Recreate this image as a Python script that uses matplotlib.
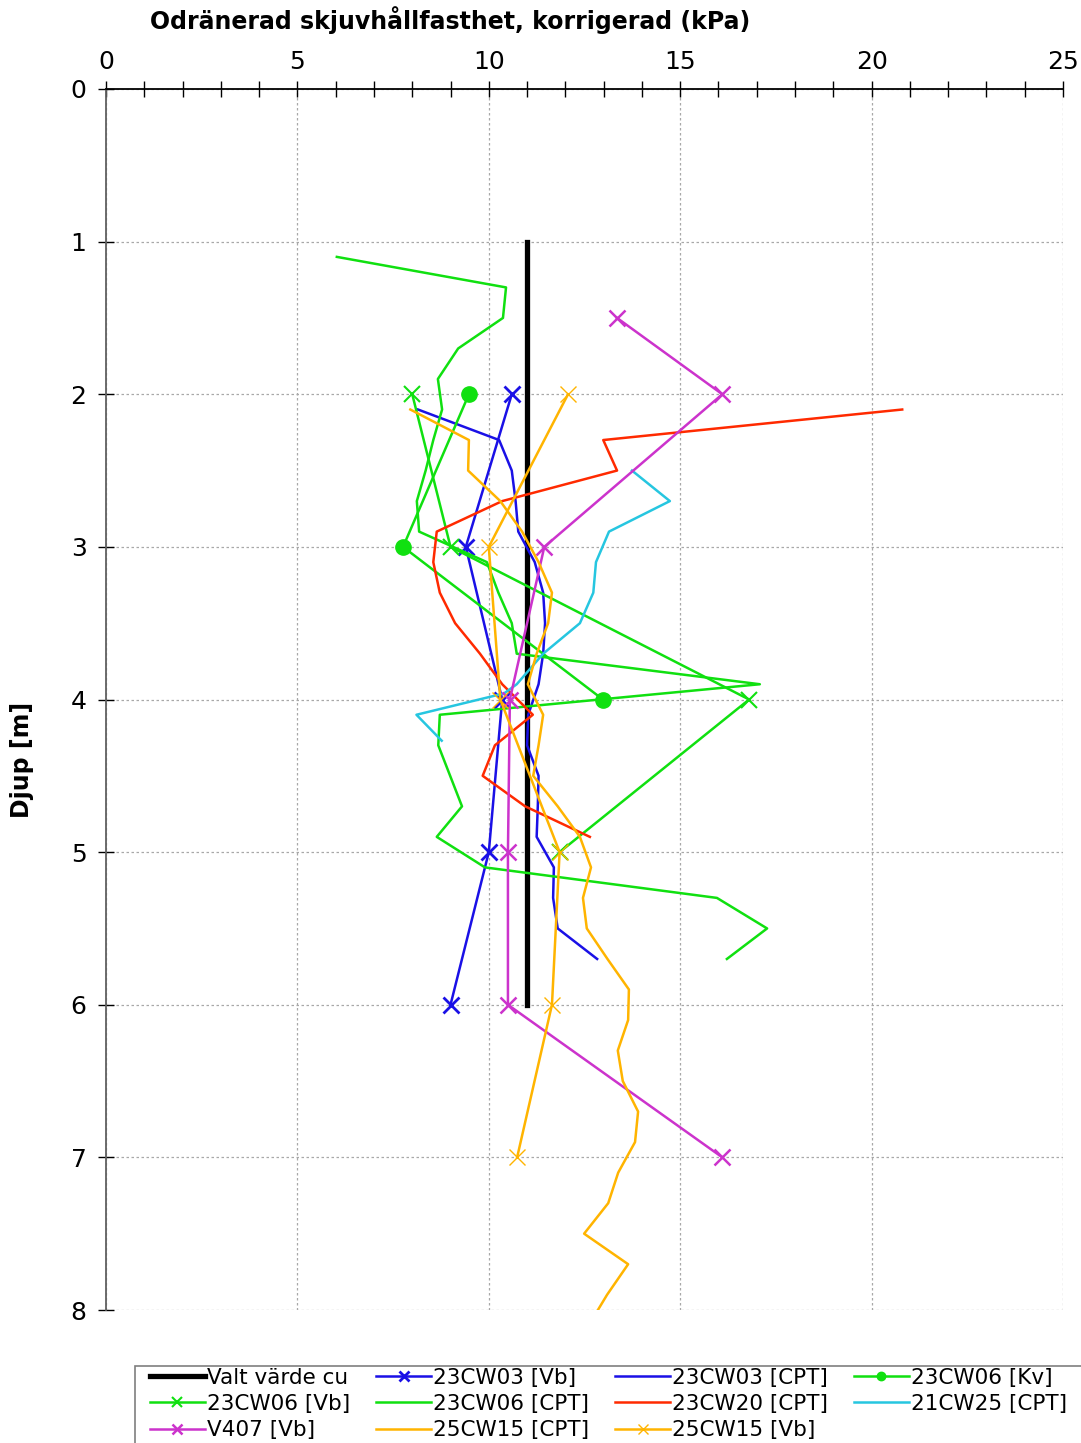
import matplotlib.pyplot as plt
from matplotlib.patches import Rectangle
from matplotlib.ticker import MultipleLocator

plt.rcParams['font.family'] = ['DejaVu Sans']

# Valt värde
valt_x = [11, 11]
valt_y = [1, 6]

# 23CW03
cw03_vb_y = [2, 3, 4, 5, 6]
cw03_vb_x = [10.6, 9.4, 10.35, 10.0, 9.0]
cw03_cpt_y = [2.1, 2.3, 2.5, 2.7, 2.9, 3.1, 3.3, 3.5, 3.7, 3.9, 4.1, 4.3, 4.5, 4.7, 4.9,
              5.1, 5.3, 5.5, 5.7]
cw03_cpt_x = [8.15, 10.27, 10.6, 10.7, 10.77, 11.2, 11.42, 11.47, 11.42, 11.3, 11.03, 11.0,
              11.3, 11.28, 11.25, 11.7, 11.68, 11.8, 12.83]

# 23CW06
cw06_kv_y = [2, 3, 4]
cw06_kv_x = [9.48, 7.76, 12.98]
cw06_vb_y = [2, 3, 4, 5]
cw06_vb_x = [8.0, 9.0, 16.8, 11.85]
cw06_cpt_y = [1.1, 1.3, 1.5, 1.7, 1.9, 2.1, 2.3, 2.5, 2.7, 2.9, 3.1, 3.3, 3.5, 3.7, 3.9,
              4.1, 4.3, 4.5, 4.7, 4.9, 5.1, 5.3, 5.5, 5.7]
cw06_cpt_x = [6.03, 10.45, 10.37, 9.2, 8.67, 8.78, 8.55, 8.35, 8.12, 8.18, 9.95, 10.25,
              10.6, 10.73, 17.08, 8.72, 8.68, 8.99, 9.3, 8.64, 9.9, 15.96, 17.27, 16.22]

# 23CW20
cw20_cpt_y = [2.1, 2.3, 2.5, 2.7, 2.9, 3.1, 3.3, 3.5, 3.7, 3.9, 4.1, 4.3, 4.5, 4.7, 4.9]
cw20_cpt_x = [20.8, 12.99, 13.35, 10.35, 8.64, 8.55, 8.72, 9.12, 9.77, 10.35, 11.15, 10.16,
              9.84, 10.95, 12.64]

# 21CW25
cw25_cpt_y = [2.5, 2.7, 2.9, 3.1, 3.3, 3.5, 3.7, 3.9, 3.96, 4.1, 4.27]
cw25_cpt_x = [13.74, 14.73, 13.14, 12.8, 12.73, 12.38, 11.42, 10.73, 10.4, 8.11, 8.77]

# V407
v407_vb_y = [1.5, 2, 3, 4, 5, 6, 7]
v407_vb_x = [13.35, 16.1, 11.45, 10.55, 10.5, 10.5, 16.1]

# 25CW15
cw15_cpt_y = [2.1, 2.3, 2.5, 2.7, 2.9, 3.1, 3.3, 3.5, 3.7, 3.9, 4.1, 4.3, 4.5, 4.7, 4.9,
              5.1, 5.3, 5.5, 5.7, 5.9, 6.1, 6.3, 6.5, 6.7, 6.9, 7.1, 7.3, 7.5, 7.7, 7.9, 8.0]
cw15_cpt_x = [7.95, 9.48, 9.46, 10.3, 10.87, 11.3, 11.65, 11.55, 11.25, 11.02, 11.42, 11.3,
              11.16, 11.8, 12.38, 12.67, 12.46, 12.56, 13.1, 13.66, 13.64, 13.37, 13.5, 13.9,
              13.82, 13.38, 13.12, 12.49, 13.64, 13.09, 12.85]
cw15_vb_y = [2, 3, 4, 5, 6, 7]
cw15_vb_x = [12.07, 10.0, 10.3, 11.85, 11.65, 10.74]

blue = "#1a10e6"
green = "#10e010"
red = "#ff2a00"
cyan = "#26c6e0"
magenta = "#cc33cc"
yellow = "#ffb400"

fig = plt.figure(figsize=(10.81, 14.43), dpi=100)
ax = fig.add_axes([106 / 1081, 1 - 1310 / 1443, (1063 - 106) / 1081, (1310 - 89) / 1443])

lw = 1.8
h = {}
h['valt'], = ax.plot(valt_x, valt_y, color="black", lw=3.8, label="Valt värde cu")
h['cw03_vb'], = ax.plot(cw03_vb_x, cw03_vb_y, color=blue, lw=lw, marker="x", ms=12, mew=2,
                        label="23CW03 [Vb]")
h['cw03_cpt'], = ax.plot(cw03_cpt_x, cw03_cpt_y, color=blue, lw=lw, label="23CW03 [CPT]")
h['cw06_kv'], = ax.plot(cw06_kv_x, cw06_kv_y, color=green, lw=lw, marker="o", ms=11,
                        label="23CW06 [Kv]")
h['cw06_vb'], = ax.plot(cw06_vb_x, cw06_vb_y, color=green, lw=lw, marker="x", ms=12, mew=1.5,
                        label="23CW06 [Vb]")
h['cw06_cpt'], = ax.plot(cw06_cpt_x, cw06_cpt_y, color=green, lw=lw, label="23CW06 [CPT]")
h['cw20_cpt'], = ax.plot(cw20_cpt_x, cw20_cpt_y, color=red, lw=lw, label="23CW20 [CPT]")
h['cw25_cpt'], = ax.plot(cw25_cpt_x, cw25_cpt_y, color=cyan, lw=lw, label="21CW25 [CPT]")
h['v407_vb'], = ax.plot(v407_vb_x, v407_vb_y, color=magenta, lw=lw, marker="x", ms=12, mew=1.8,
                        label="V407 [Vb]")
h['cw15_cpt'], = ax.plot(cw15_cpt_x, cw15_cpt_y, color=yellow, lw=lw, label="25CW15 [CPT]")
h['cw15_vb'], = ax.plot(cw15_vb_x, cw15_vb_y, color=yellow, lw=lw, marker="x", ms=12, mew=1,
                        label="25CW15 [Vb]")

ax.set_xlim(0, 25)
ax.set_ylim(8, 0)
ax.xaxis.tick_top()
ax.xaxis.set_major_locator(MultipleLocator(5))
ax.xaxis.set_minor_locator(MultipleLocator(1))
ax.yaxis.set_major_locator(MultipleLocator(1))
ax.tick_params(axis="x", which="both", direction="inout", length=12, width=1, labelsize=18,
               pad=5, top=True, bottom=False)
ax.tick_params(axis="y", which="major", direction="inout", length=12, width=1, labelsize=18,
               pad=8, left=True, right=False)
ax.grid(True, which="major", linestyle=(0, (2, 2)), color="#a8a8a8", lw=0.9)
ax.set_axisbelow(True)
for s in ["right", "bottom"]:
    ax.spines[s].set_visible(False)
ax.spines["top"].set_color("black")
ax.spines["top"].set_linewidth(1.3)
ax.spines["left"].set_color("#606060")
ax.spines["left"].set_linewidth(1.3)

fig.text(150 / 1081, 1 - 20 / 1443, "Odränerad skjuvhållfasthet, korrigerad (kPa)",
         fontsize=17, fontweight="bold", ha="left", va="center")
fig.text(22 / 1081, 1 - 760 / 1443, "Djup [m]", fontsize=17, fontweight="bold",
         rotation=90, ha="center", va="center")

# legend frame, running off the right and bottom edge like the original
fig.patches.append(Rectangle((135 / 1081, -0.01), 1.0, 1 - 1366 / 1443 + 0.01,
                             transform=fig.transFigure, facecolor="white",
                             edgecolor="#7f7f7f", lw=1.2, zorder=0))

order = ['valt', 'cw06_vb', 'v407_vb', 'cw03_vb', 'cw06_cpt', 'cw15_cpt',
         'cw03_cpt', 'cw20_cpt', 'cw15_vb', 'cw06_kv', 'cw25_cpt']
leg = fig.legend([h[k] for k in order], [h[k].get_label() for k in order],
                 loc="upper left", bbox_to_anchor=(150 / 1081, 1 - 1368 / 1443), ncol=4,
                 fontsize=15.5, frameon=False, markerscale=0.55,
                 handlelength=2.55, handletextpad=0.1, columnspacing=1.2,
                 labelspacing=0.28, borderpad=0, borderaxespad=0)

fig.savefig("out.png", dpi=100)
